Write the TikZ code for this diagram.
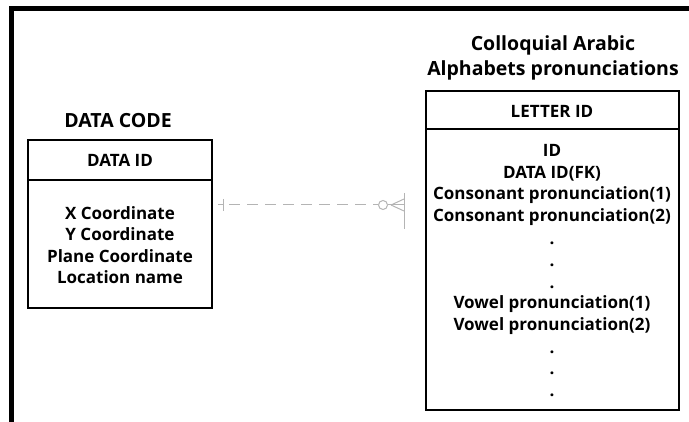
\documentclass[tikz,border=0pt]{standalone}
\usepackage{fontspec}
\setmainfont{Open Sans}
\definecolor{linkgray}{HTML}{B4B4B4}
\begin{document}
\begin{tikzpicture}[x=1pt,y=-1pt,
  txt/.style={font=\bfseries\fontsize{17}{21.5}\selectfont, align=center, inner sep=0pt},
  ttl/.style={font=\bfseries\fontsize{19.5}{25}\selectfont, align=center, inner sep=0pt},
  boxline/.style={draw=black, line width=1.3pt},
  link/.style={draw=linkgray, line width=1pt}]
\useasboundingbox (0,0) rectangle (689,422);
% frame
\draw[line width=5pt] (11,422) -- (11,8.5) -- (689,8.5);
% left table
\draw[boxline] (28,140) rectangle (212,308);
\draw[boxline] (28,180) -- (212,180);
\node[ttl] (dctitle) at (118,121) {DATA CODE};
\node[txt] (dcid) at (120,160) {DATA ID};
\node[txt] (dcbody) at (120,245) {X Coordinate\\Y Coordinate\\Plane Coordinate\\Location name};
% right table
\draw[boxline] (426,91) rectangle (679,410);
\draw[boxline] (426,129) -- (679,129);
\node[ttl] (rttitle) at (553,58) {Colloquial Arabic\\Alphabets pronunciations};
\node[txt] (rtid) at (552,111) {LETTER ID};
\node[txt] (rtbody) at (552,185) {ID\\DATA ID(FK)\\Consonant pronunciation(1)\\Consonant pronunciation(2)};
\node[txt] (rtd1) at (552,243) {.};
\node[txt] (rtd2) at (552,265) {.};
\node[txt] (rtd3) at (552,287) {.};
\node[txt] (rtvow) at (552,315) {Vowel pronunciation(1)\\Vowel pronunciation(2)};
\node[txt] (rtd4) at (552,352) {.};
\node[txt] (rtd5) at (552,373) {.};
\node[txt] (rtd6) at (552,395) {.};
% connector
\coordinate (ls) at (218,205);
\coordinate (lplus) at (223,205);
\coordinate (le) at (378,205);
\coordinate (lbar) at (404,205);
\draw[link] (lplus)+(0,-6) -- +(0,6);
\draw[link] (ls) -- (lplus);
\draw[link, dash pattern=on 11pt off 7pt] (229,205) -- (le);
\draw[link] (383,205) circle (4.5);
\draw[link] (387.5,205) -- (lbar);
\draw[link] (391,205) -- (404,199);
\draw[link] (391,205) -- (404,211);
\draw[link] (404,193) -- (404,229);
\end{tikzpicture}
\end{document}
